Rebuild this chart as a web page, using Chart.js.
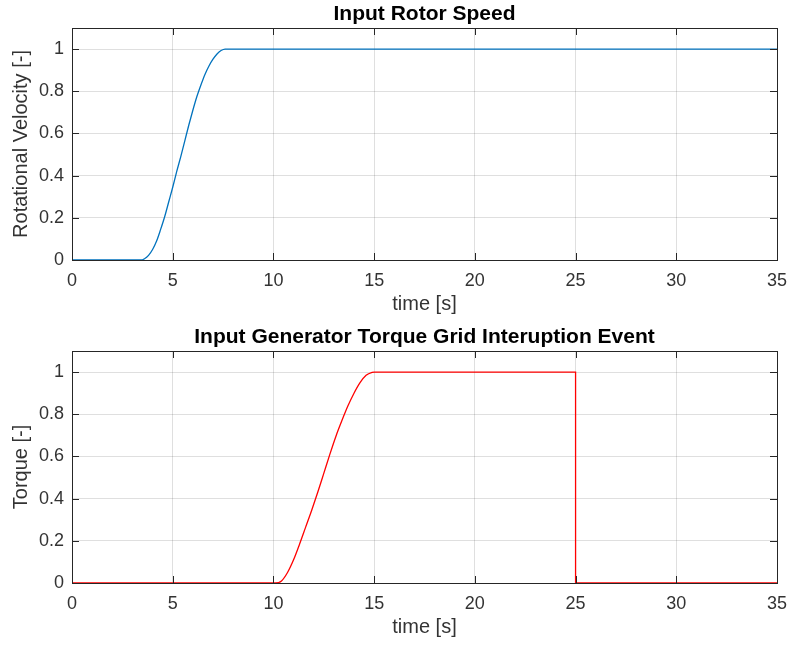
<!DOCTYPE html>
<html>
<head>
<meta charset="utf-8">
<script src="https://cdn.jsdelivr.net/npm/chart.js@4"></script>
<style>
    body { margin: 0; background: #fff; }
    canvas { display: block; }
</style>
</head>
<body>
<canvas id="rotorChart" width="788" height="323"></canvas>
<canvas id="torqueChart" width="788" height="323"></canvas>
<script>
var xTicks = [0, 5, 10, 15, 20, 25, 30, 35];
var yTicks = [0, 0.2, 0.4, 0.6, 0.8, 1];

var rotorTime = [0, 3.4, 3.6, 3.8, 4.0, 4.2, 4.4, 4.6, 4.8, 5.0, 5.2, 5.4, 5.6, 5.8, 6.0, 6.2, 6.4, 6.6, 6.8, 7.0, 7.2, 7.4, 7.6, 35];
var rotorSpeed = [0, 0, 0.006, 0.022, 0.05, 0.09, 0.145, 0.205, 0.275, 0.345, 0.42, 0.49, 0.565, 0.64, 0.71, 0.775, 0.83, 0.88, 0.92, 0.952, 0.977, 0.993, 1, 1];

var torqueTime = [0, 10.1, 10.4, 10.7, 11.0, 11.3, 11.6, 11.9, 12.2, 12.5, 12.8, 13.1, 13.4, 13.7, 14.0, 14.3, 14.6, 14.9, 15, 25, 25, 35];
var torqueValue = [0, 0, 0.01, 0.05, 0.11, 0.185, 0.265, 0.345, 0.43, 0.52, 0.61, 0.695, 0.77, 0.84, 0.9, 0.95, 0.985, 0.999, 1, 1, 0, 0];

var axisColor = "#262626";
var fontFamily = "'Liberation Sans', Arial, sans-serif";

// matlab style box with inward ticks
var boxPlugin = {
    id: "box",
    afterDatasetsDraw: function (chart) {
        var ctx = chart.ctx;
        var a = chart.chartArea;
        var xs = chart.scales.x;
        var ys = chart.scales.y;
        var len = 7;
        ctx.save();
        ctx.strokeStyle = axisColor;
        ctx.lineWidth = 1;
        ctx.beginPath();
        xTicks.forEach(function (v) {
            var px = Math.round(xs.getPixelForValue(v)) + 0.5;
            ctx.moveTo(px, a.bottom);
            ctx.lineTo(px, a.bottom - len);
            ctx.moveTo(px, a.top);
            ctx.lineTo(px, a.top + len);
        });
        yTicks.forEach(function (v) {
            var py = Math.round(ys.getPixelForValue(v)) + 0.5;
            ctx.moveTo(a.left, py);
            ctx.lineTo(a.left + len, py);
            ctx.moveTo(a.right, py);
            ctx.lineTo(a.right - len, py);
        });
        ctx.stroke();
        ctx.strokeRect(Math.round(a.left) + 0.5, Math.round(a.top) + 0.5,
            Math.round(a.right - a.left), Math.round(a.bottom - a.top));
        ctx.restore();
    },
};

function makeChart(id, title, yLabel, times, values, color) {
    var points = times.map(function (t, i) {
        return { x: t, y: values[i] };
    });
    return new Chart(document.getElementById(id).getContext("2d"), {
        type: "line",
        data: {
            datasets: [
                {
                    data: points,
                    borderColor: color,
                    borderWidth: 1.3,
                    pointRadius: 0,
                    cubicInterpolationMode: "monotone",
                    fill: false,
                },
            ],
        },
        options: {
            responsive: false,
            animation: false,
            layout: {
                padding: { left: 0, right: 11, top: 0, bottom: 0 },
            },
            scales: {
                x: {
                    type: "linear",
                    min: 0,
                    max: 35,
                    afterBuildTicks: function (scale) {
                        scale.ticks = xTicks.map(function (v) { return { value: v }; });
                    },
                    afterFit: function (scale) {
                        scale.height = 63;
                        scale.paddingLeft = 0;
                        scale.paddingRight = 0;
                    },
                    grid: {
                        color: "rgba(38, 38, 38, 0.15)",
                        drawTicks: false,
                    },
                    border: { display: false },
                    ticks: {
                        color: "#333",
                        padding: 10,
                        maxRotation: 0,
                        font: { size: 18, family: fontFamily },
                        callback: function (v) { return String(v); },
                    },
                    title: {
                        display: true,
                        text: "time [s]",
                        color: "#333",
                        padding: { top: 0, bottom: 7 },
                        font: { size: 20, family: fontFamily },
                    },
                },
                y: {
                    min: 0,
                    max: 1.1,
                    afterBuildTicks: function (scale) {
                        scale.ticks = yTicks.map(function (v) { return { value: v }; });
                    },
                    afterFit: function (scale) {
                        scale.width = 72;
                    },
                    grid: {
                        color: "rgba(38, 38, 38, 0.15)",
                        drawTicks: false,
                    },
                    border: { display: false },
                    ticks: {
                        color: "#333",
                        padding: 8,
                        font: { size: 18, family: fontFamily },
                        callback: function (v) { return String(v); },
                    },
                    title: {
                        display: true,
                        text: yLabel,
                        color: "#333",
                        padding: { top: 9, bottom: 0 },
                        font: { size: 20, family: fontFamily },
                    },
                },
            },
            plugins: {
                legend: { display: false },
                tooltip: { enabled: false },
                title: {
                    display: true,
                    text: title,
                    fullSize: false,
                    color: "#000",
                    padding: { top: 2, bottom: 0.8 },
                    font: {
                        size: 21,
                        weight: "bold",
                        family: fontFamily,
                        lineHeight: 1.2,
                    },
                },
            },
        },
        plugins: [boxPlugin],
    });
}

makeChart("rotorChart", "Input Rotor Speed", "Rotational Velocity [-]", rotorTime, rotorSpeed, "#0072BD");
makeChart("torqueChart", "Input Generator Torque Grid Interuption Event", "Torque [-]", torqueTime, torqueValue, "#FF0000");
</script>
</body>
</html>
